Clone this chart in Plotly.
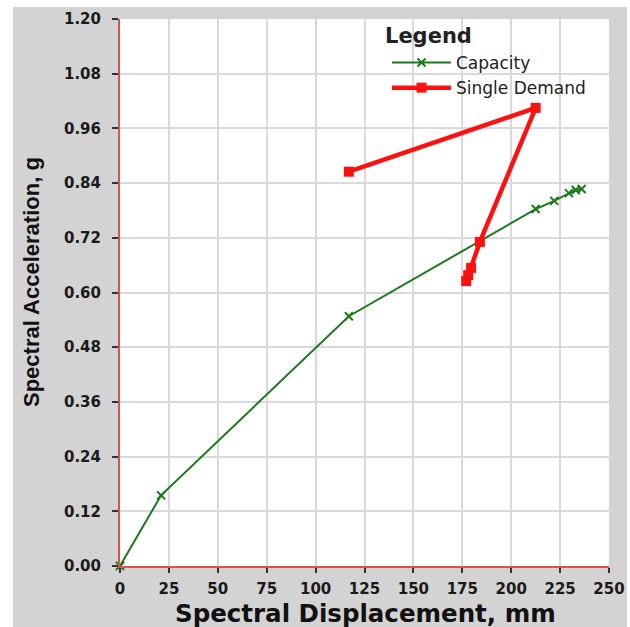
import plotly.graph_objects as go

# Capacity curve (spectral displacement in mm, spectral acceleration in g)
capacity_sd = [0, 21, 117, 212.5, 222, 229.5, 233, 236]
capacity_sa = [0, 0.155, 0.548, 0.783, 0.801, 0.818, 0.825, 0.827]

# Single demand iteration path
demand_sd = [117, 212.5, 184, 179.5, 178, 177]
demand_sa = [0.865, 1.005, 0.711, 0.654, 0.638, 0.625]

x_ticks = [0, 25, 50, 75, 100, 125, 150, 175, 200, 225, 250]
y_ticks = [0.00, 0.12, 0.24, 0.36, 0.48, 0.60, 0.72, 0.84, 0.96, 1.08, 1.20]

W, H = 630, 627
L, R, T, B = 120, 21, 19, 61
pw, ph = W - L - R, H - T - B

def px_to_paper_x(px):
    return (px - L) / pw

def px_to_paper_y(py):
    return (H - B - py) / ph

fig = go.Figure()

fig.add_trace(go.Scatter(
    x=capacity_sd, y=capacity_sa, name="Capacity",
    mode="lines+markers",
    line=dict(color="#1a7a1a", width=2),
    marker=dict(symbol="x-thin", size=8, line=dict(color="#1a7a1a", width=2)),
    cliponaxis=False, legendgroup="a",
))

fig.add_trace(go.Scatter(
    x=demand_sd, y=demand_sa, name="Single Demand",
    mode="lines+markers",
    line=dict(color="#ff1010", width=4.5),
    marker=dict(symbol="square", size=10, color="#ff1010"),
    cliponaxis=False, legendgroup="b",
))

WIDE = "DejaVu Sans, Verdana, sans-serif"
NARROW = "Liberation Sans, Arial, sans-serif"
tick_font = dict(family=WIDE, size=15, color="#1a1a1a")

fig.update_layout(
    width=W, height=H,
    margin=dict(l=L, r=R, t=T, b=B, pad=0),
    paper_bgcolor="white",
    plot_bgcolor="white",
    showlegend=True,
    legend=dict(
        x=px_to_paper_x(387), y=px_to_paper_y(45),
        xanchor="left", yanchor="top",
        bgcolor="rgba(0,0,0,0)",
        font=dict(family=WIDE, size=17, color="#222222"),
        traceorder="grouped",
        tracegroupgap=0,
        itemwidth=59,
    ),
    annotations=[
        dict(text="<b>Legend</b>", xref="paper", yref="paper",
             x=px_to_paper_x(383), y=px_to_paper_y(36),
             xanchor="left", yanchor="middle", showarrow=False,
             font=dict(family=WIDE, size=21, color="#222222")),
        dict(text="<b>Spectral Displacement, mm</b>", xref="paper", yref="paper",
             x=px_to_paper_x(365), y=px_to_paper_y(613),
             xanchor="center", yanchor="middle", showarrow=False,
             font=dict(family=WIDE, size=24.5, color="#111111")),
        dict(text="<b>Spectral Acceleration, g</b>", xref="paper", yref="paper",
             x=px_to_paper_x(31), y=px_to_paper_y(282), textangle=-90,
             xanchor="center", yanchor="middle", showarrow=False,
             font=dict(family=NARROW, size=22, color="#111111")),
    ],
    xaxis=dict(
        range=[0, 250], tickvals=x_ticks, ticktext=[f"<b>{v}</b>" for v in x_ticks],
        showline=True, linecolor="#e05050", linewidth=2,
        showgrid=True, gridcolor="#d9d9d9", gridwidth=1.5,
        ticks="outside", ticklen=5, tickwidth=2, tickcolor="#333333",
        ticklabelstandoff=3, automargin=False,
        tickfont=tick_font, zeroline=False,
    ),
    yaxis=dict(
        range=[0, 1.2], tickvals=y_ticks, ticktext=[f"<b>{v:.2f}</b>" for v in y_ticks],
        showline=True, linecolor="#e05050", linewidth=2,
        showgrid=True, gridcolor="#d9d9d9", gridwidth=1.5,
        ticks="outside", ticklen=6, tickwidth=2, tickcolor="#333333",
        ticklabelstandoff=8, automargin=False,
        tickfont=tick_font, zeroline=False,
    ),
    shapes=[
        # gray panel behind the plotting area
        dict(type="rect", xref="paper", yref="paper", layer="below",
             x0=px_to_paper_x(13), x1=px_to_paper_x(627),
             y0=px_to_paper_y(627), y1=px_to_paper_y(7),
             fillcolor="#d3d3d3", line=dict(width=0)),
        # white plotting area
        dict(type="rect", xref="paper", yref="paper", layer="below",
             x0=0, x1=1, y0=0, y1=1,
             fillcolor="white", line=dict(width=0)),
    ],
)

fig.write_html("out.html")
